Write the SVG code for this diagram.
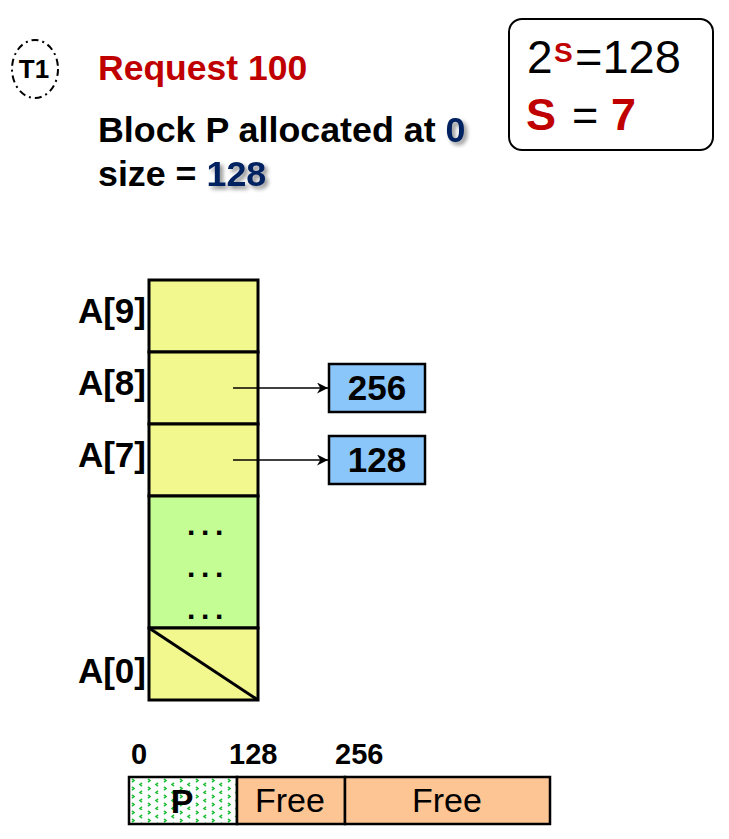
<svg xmlns="http://www.w3.org/2000/svg" width="729" height="839" viewBox="0 0 729 839">
<style>
text{font-family:"Liberation Sans",Arial,sans-serif}
.b{font-weight:bold}
.red{fill:#c00000}
.blue{fill:#002060}
.lbl{font-size:35px;font-weight:bold;text-anchor:end}
.cell{fill:#f2f78e;stroke:#000;stroke-width:3}
.cnt{fill:#8ac6fa;stroke:#000;stroke-width:2.5}
.num{font-size:35px;font-weight:bold;text-anchor:middle}
.conn{stroke:#000;stroke-width:1.6;fill:none;marker-end:url(#ah)}
.dots{font-size:30px;font-weight:bold;letter-spacing:5.7px}
.pos{font-size:29px;font-weight:bold}
</style>
<defs>
<marker id="ah" viewBox="0 0 10 10" refX="10" refY="5" markerWidth="11" markerHeight="11" markerUnits="userSpaceOnUse" orient="auto">
<path d="M0,0 L10,5 L0,10 L3,5 Z" fill="#000"/>
</marker>
<filter id="sh" x="-30%" y="-30%" width="170%" height="170%">
<feGaussianBlur in="SourceAlpha" stdDeviation="2"/>
<feOffset dx="3" dy="3" result="o"/>
<feComponentTransfer><feFuncA type="linear" slope="0.45"/></feComponentTransfer>
<feMerge><feMergeNode/><feMergeNode in="SourceGraphic"/></feMerge>
</filter>
<pattern id="dots" width="16" height="16" patternUnits="userSpaceOnUse" x="129" y="778">
<rect width="16" height="16" fill="#fff"/>
<path d="M3,1 L5,2.5 L3,4 M13,5 L11,6.5 L13,8 M3,9 L5,10.5 L3,12 M13,13 L11,14.5 L13,16" stroke="#22c03a" stroke-width="1.6" fill="none"/>
</pattern>
</defs>

<g id="t1">
<ellipse cx="35" cy="69" rx="23" ry="29" fill="none" stroke="#000" stroke-width="2" stroke-dasharray="7 4 2 4"/>
<text x="34" y="78" font-size="26" class="b" text-anchor="middle">T1</text>
</g>

<g id="header">
<text x="98" y="80" font-size="35.5" class="b red">Request 100</text>
<text x="98" y="142" font-size="35.8" class="b">Block P allocated at <tspan class="blue" filter="url(#sh)">0</tspan></text>
<text x="98" y="186" font-size="35.8" class="b">size = <tspan class="blue" filter="url(#sh)">128</tspan></text>
</g>

<g id="formula">
<rect x="509" y="19" width="204" height="131" rx="13" fill="#fff" stroke="#000" stroke-width="2"/>
<text x="527" y="73" font-size="46">2</text>
<text x="554" y="62" font-size="28" class="b red">S</text>
<text x="575" y="73" font-size="47">=128</text>
<text x="526" y="130" font-size="45" class="b red">S</text>
<text x="572" y="130" font-size="45">=</text>
<text x="611" y="130" font-size="45" class="b red">7</text>
</g>

<g id="array">
<rect class="cell" x="149" y="280" width="109" height="72"/>
<rect class="cell" x="149" y="352" width="109" height="72"/>
<rect class="cell" x="149" y="424" width="109" height="72"/>
<rect x="149" y="496" width="109" height="132" fill="#c4fd93" stroke="#000" stroke-width="3"/>
<rect class="cell" x="149" y="628" width="109" height="72"/>
<line x1="149" y1="628" x2="258" y2="700" stroke="#000" stroke-width="3"/>
<text class="dots" x="187" y="535">...</text>
<text class="dots" x="187" y="577">...</text>
<text class="dots" x="187" y="619">...</text>
<text class="lbl" x="146" y="323">A[9]</text>
<text class="lbl" x="146" y="395">A[8]</text>
<text class="lbl" x="146" y="467">A[7]</text>
<text class="lbl" x="146" y="683">A[0]</text>
</g>

<g id="node256">
<rect class="cnt" x="329" y="364" width="96" height="48"/>
<text class="num" x="377" y="400">256</text>
</g>
<g id="node128">
<rect class="cnt" x="329" y="436" width="96" height="48"/>
<text class="num" x="377" y="472">128</text>
</g>

<g id="connectors">
<line class="conn" x1="233" y1="388" x2="328" y2="388"/>
<line class="conn" x1="233" y1="460" x2="328" y2="460"/>
</g>

<g id="memory">
<rect x="129" y="777" width="108" height="47" fill="url(#dots)" stroke="#000" stroke-width="2.5"/>
<rect x="237" y="777" width="108" height="47" fill="#fdc593" stroke="#000" stroke-width="2.5"/>
<rect x="345" y="777" width="205" height="47" fill="#fdc593" stroke="#000" stroke-width="2.5"/>
<text x="182" y="813" font-size="34" class="b" text-anchor="middle">P</text>
<text x="290" y="812" font-size="34" text-anchor="middle">Free</text>
<text x="447" y="812" font-size="34" text-anchor="middle">Free</text>
<text class="pos" x="131" y="764">0</text>
<text class="pos" x="229" y="764">128</text>
<text class="pos" x="335" y="764">256</text>
</g>
</svg>
